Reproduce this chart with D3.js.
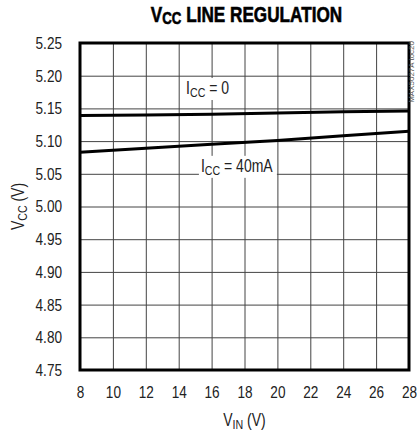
<!DOCTYPE html>
<html>
<head>
<meta charset="utf-8">
<script src="https://cdn.jsdelivr.net/npm/d3@7"></script>
<style>
  body { margin: 0; background: #fff; }
  text { font-family: "Liberation Sans", Arial, sans-serif; }
</style>
</head>
<body>
<div id="viz"></div>
<script>
// curves
var vin = [8, 12, 16, 20, 24, 28];
var vccNoLoad = [5.139, 5.140, 5.141, 5.143, 5.145, 5.146];
var vcc40mA = [5.083, 5.089, 5.095, 5.101, 5.108, 5.115];
var xTicks = [8, 10, 12, 14, 16, 18, 20, 22, 24, 26, 28];
var yTicks = [4.75, 4.80, 4.85, 4.90, 4.95, 5.00, 5.05, 5.10, 5.15, 5.20, 5.25];

var width = 417, height = 432;
var margin = { top: 43, right: 8, bottom: 62, left: 80 };
var w = width - margin.left - margin.right,
    h = height - margin.top - margin.bottom;
var squeeze = 0.8; // fake a narrow face, none installed

var svg = d3.select('#viz').append('svg')
  .attr('width', width)
  .attr('height', height);

var xScale = d3.scaleLinear().domain([8, 28]).range([0, w]);
var yScale = d3.scaleLinear().domain([4.75, 5.25]).range([h, 0]);

var g = svg.append('g')
  .attr('transform', 'translate(' + margin.left + ',' + margin.top + ')');

// grid
g.append('g')
  .attr('transform', 'translate(0,' + h + ')')
  .call(d3.axisBottom(xScale).tickValues(xTicks).tickSize(-h).tickFormat(''))
  .call(function(s) { s.select('.domain').remove(); })
  .selectAll('line').attr('stroke', '#444').attr('stroke-width', 1);

g.append('g')
  .call(d3.axisLeft(yScale).tickValues(yTicks).tickSize(-w).tickFormat(''))
  .call(function(s) { s.select('.domain').remove(); })
  .selectAll('line').attr('stroke', '#444').attr('stroke-width', 1);

// tick labels
g.append('g')
  .attr('transform', 'translate(0,' + h + ')')
  .call(d3.axisBottom(xScale).tickValues(xTicks).tickSize(0).tickPadding(16))
  .call(function(s) { s.select('.domain').remove(); })
  .selectAll('text')
    .attr('font-size', 17)
    .attr('fill', '#222')
    .attr('transform', 'scale(' + squeeze + ',1)');

g.append('g')
  .call(d3.axisLeft(yScale).tickValues(yTicks).tickSize(0).tickPadding(18 / squeeze)
    .tickFormat(d3.format('.2f')))
  .call(function(s) { s.select('.domain').remove(); })
  .selectAll('text')
    .attr('font-size', 17)
    .attr('fill', '#222')
    .attr('transform', 'scale(' + squeeze + ',1)');

// text helper: main + subscript + rest, squeezed
function subText(parent, x, y, main, sub, rest, size, anchor, extra) {
  var t = parent.append('g')
    .attr('transform', 'translate(' + x + ',' + y + ')' + (extra || '') + ' scale(' + squeeze + ',1)')
    .append('text')
    .attr('font-size', size)
    .attr('fill', '#222')
    .attr('text-anchor', anchor || 'start');
  t.append('tspan').text(main);
  t.append('tspan').attr('font-size', size * 0.76).attr('dy', 3).text(sub);
  t.append('tspan').attr('dy', -3).text(rest);
  return t;
}

// curve labels with white backing
function label(x, y, sub, rest, bw) {
  g.append('rect')
    .attr('x', x - 2).attr('y', y - 16)
    .attr('width', bw).attr('height', 22)
    .attr('fill', '#fff');
  subText(g, x, y, 'I', sub, rest, 17.5);
}
label(xScale(14.45), yScale(5.172), 'CC', ' = 0', 47);
label(xScale(15.35), yScale(5.053), 'CC', ' = 40mA', 78);

// curves
var line = d3.line()
  .x(function(d) { return xScale(d[0]); })
  .y(function(d) { return yScale(d[1]); });

[vccNoLoad, vcc40mA].forEach(function(series) {
  g.append('path')
    .datum(vin.map(function(v, i) { return [v, series[i]]; }))
    .attr('fill', 'none')
    .attr('stroke', '#000')
    .attr('stroke-width', 3)
    .attr('d', line);
});

// frame
g.append('rect')
  .attr('width', w).attr('height', h)
  .attr('fill', 'none')
  .attr('stroke', '#000')
  .attr('stroke-width', 3);

// title, heavy and condensed
var title = svg.append('g')
  .attr('transform', 'translate(' + (margin.left + w / 2 + 2) + ',22) scale(0.78,1)')
  .append('text')
  .attr('text-anchor', 'middle')
  .attr('font-size', 22)
  .attr('font-weight', 'bold')
  .attr('fill', '#000')
  .attr('stroke', '#000')
  .attr('stroke-width', 0.6);
title.append('tspan').text('V');
title.append('tspan').attr('font-size', 17).attr('dy', 2).text('CC');
title.append('tspan').attr('dy', -2).text(' LINE REGULATION');

// axis titles
subText(svg, margin.left + w / 2, 426, 'V', 'IN', ' (V)', 17.5, 'middle');
subText(svg, 24, margin.top + h / 2, 'V', 'CC', ' (V)', 17.5, 'middle', ' rotate(-90)');

// side code
svg.append('text')
  .attr('transform', 'translate(414,41) rotate(-90)')
  .attr('text-anchor', 'end')
  .attr('font-size', 8)
  .attr('fill', '#555')
  .text('MAX5027A toc20');
</script>
</body>
</html>
